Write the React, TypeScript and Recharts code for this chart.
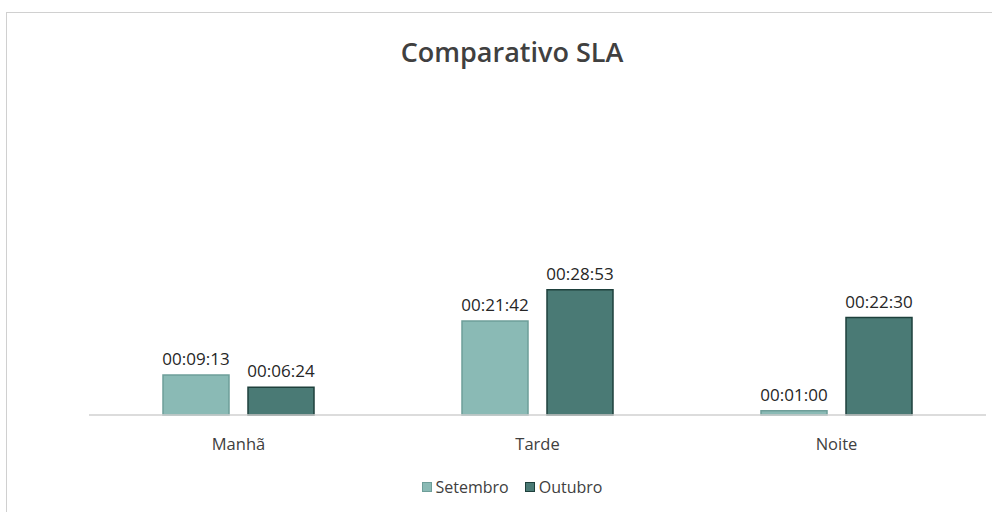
import React from "react";
import { BarChart, Bar, XAxis, YAxis, LabelList, Legend } from "recharts";

// turnos e SLA medio (em segundos)
const turnos = ["Manhã", "Tarde", "Noite"];
const setembro = [553, 1302, 60]; // 00:09:13, 00:21:42, 00:01:00
const outubro = [384, 1733, 1350]; // 00:06:24, 00:28:53, 00:22:30

const data = turnos.map((t, i) => ({ turno: t, Setembro: setembro[i], Outubro: outubro[i] }));

const FONT = "'Open Sans', sans-serif";

function fmt(v: number) {
  const h = Math.floor(v / 3600);
  const m = Math.floor((v % 3600) / 60);
  const s = v % 60;
  const p = (n: number) => String(n).padStart(2, "0");
  return `${p(h)}:${p(m)}:${p(s)}`;
}

const LegendBox = () => (
  <div style={{ display: "flex", justifyContent: "center", gap: 16, fontFamily: FONT, fontSize: 16, color: "#404040" }}>
    {[
      { name: "Setembro", fill: "#8ABAB5", stroke: "#6E9E99" },
      { name: "Outubro", fill: "#4A7A75", stroke: "#1E403C" },
    ].map((it) => (
      <span key={it.name} style={{ display: "flex", alignItems: "center" }}>
        <span style={{ width: 8, height: 8, background: it.fill, border: `1px solid ${it.stroke}`, marginRight: 4 }} />
        {it.name}
      </span>
    ))}
  </div>
);

export default function App() {
  return (
    <div style={{ position: "absolute", left: 0, top: 0, width: 992, height: 512, background: "#fff", overflow: "hidden" }}>
      <div style={{ position: "absolute", left: 6, top: 12, width: 1000, height: 520, border: "1.5px solid #D0D0D0", boxSizing: "border-box" }} />
      <div
        style={{
          position: "absolute",
          left: 0,
          top: 33,
          width: 1024,
          textAlign: "center",
          fontFamily: FONT,
          fontWeight: 600,
          fontSize: 27,
          color: "#404040",
        }}
      >
        Comparativo SLA
      </div>
      <BarChart
        width={992}
        height={512}
        data={data}
        margin={{ top: 155, right: 6, left: 89, bottom: 0 }}
        barSize={66}
        barGap={19}
        style={{ position: "absolute", left: 0, top: 0 }}
      >
        <XAxis
          dataKey="turno"
          height={97}
          axisLine={{ stroke: "#D0D0D0", strokeWidth: 1.5 }}
          tickLine={false}
          tickSize={0}
          tickMargin={23}
          tick={{ fill: "#404040", fontSize: 16.5, fontFamily: FONT }}
        />
        <YAxis hide domain={[0, 3600]} />
        <Legend
          verticalAlign="middle"
          align="center"
          content={<LegendBox />}
          wrapperStyle={{ position: "absolute", left: 0, top: 476, width: 1024 }}
        />
        <Bar dataKey="Setembro" fill="#8ABAB5" stroke="#6E9E99" strokeWidth={1.5} isAnimationActive={false}>
          <LabelList
            dataKey="Setembro"
            position="top"
            offset={10}
            formatter={(v: any) => fmt(Number(v))}
            style={{ fill: "#262626", fontSize: 17, fontFamily: FONT }}
          />
        </Bar>
        <Bar dataKey="Outubro" fill="#4A7A75" stroke="#1E403C" strokeWidth={1.5} isAnimationActive={false}>
          <LabelList
            dataKey="Outubro"
            position="top"
            offset={10}
            formatter={(v: any) => fmt(Number(v))}
            style={{ fill: "#262626", fontSize: 17, fontFamily: FONT }}
          />
        </Bar>
      </BarChart>
    </div>
  );
}
